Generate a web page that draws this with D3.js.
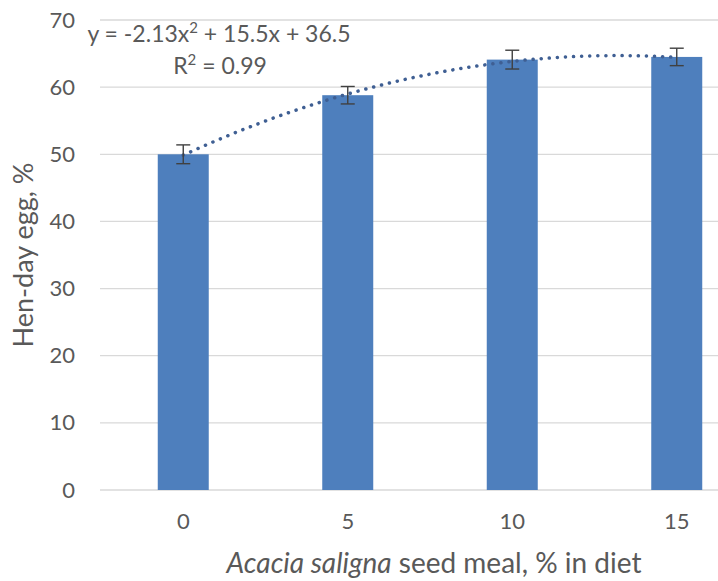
<html>
  <head>
    <title>Hen-day egg</title>
    <meta charset="utf-8" />
    <script src="https://cdnjs.cloudflare.com/ajax/libs/d3/7.6.1/d3.min.js"></script>
    <style>
      body {
        margin: 0;
        background: #fff;
      }
      svg {
        font-family: Lato, "Open Sans", sans-serif;
      }
      text {
        fill: #595959;
      }
    </style>
  </head>
  <body>
    <svg width="718" height="581"></svg>
  </body>

  <script>
    // data
    const levels = ["0", "5", "10", "15"];
    const henDay = [50.0, 58.8, 64.1, 64.5];
    const errors = [1.4, 1.3, 1.4, 1.3];
    const yTicks = [0, 10, 20, 30, 40, 50, 60, 70];
    // polynomial trendline shown on the chart: a*x^2 + b*x + c, x = 1..4
    const trendCoef = [-2.13, 15.5, 36.5];

    const svg = d3.select("svg");

    const xScale = d3
      .scaleBand()
      .domain(levels)
      .range([101, 759])
      .paddingInner(0.69)
      .paddingOuter(0.345);
    const yScale = d3.scaleLinear().domain([0, 70]).range([490, 20]);

    // gridlines
    svg
      .append("g")
      .selectAll("line")
      .data(yTicks)
      .join("line")
      .attr("x1", 100)
      .attr("x2", 759)
      .attr("y1", (d) => yScale(d))
      .attr("y2", (d) => yScale(d))
      .attr("stroke", "#d9d9d9")
      .attr("stroke-width", 1.3);

    // y axis labels
    const yAxis = d3.axisLeft(yScale).tickValues(yTicks).tickSize(0).tickPadding(25);
    const yG = svg.append("g").attr("transform", "translate(100,0)").call(yAxis);
    yG.select(".domain").remove();
    yG.selectAll("text")
      .style("font-size", "22px")
      .style("font-family", "Lato")
      .attr("fill", "#595959");

    // x axis labels
    const xAxis = d3.axisBottom(xScale).tickSize(0).tickPadding(23);
    const xG = svg.append("g").attr("transform", "translate(0,490)").call(xAxis);
    xG.select(".domain").remove();
    xG.selectAll("text")
      .style("font-size", "22px")
      .style("font-family", "Lato")
      .attr("fill", "#595959");

    // bars
    svg
      .append("g")
      .selectAll("rect")
      .data(henDay)
      .join("rect")
      .attr("x", (d, i) => xScale(levels[i]))
      .attr("width", xScale.bandwidth())
      .attr("y", (d) => yScale(d))
      .attr("height", (d) => yScale(0) - yScale(d))
      .attr("fill", "#4e7fbd");

    // trendline
    const cx = (i) => xScale(levels[i]) + xScale.bandwidth() / 2;
    const tScale = d3.scaleLinear().domain([1, 4]).range([cx(0), cx(3)]);
    const poly = (t) => trendCoef[0] * t * t + trendCoef[1] * t + trendCoef[2];
    const tPts = d3.range(1, 4.001, 0.05);
    svg
      .append("path")
      .attr(
        "d",
        d3
          .line()
          .x((t) => tScale(t))
          .y((t) => yScale(poly(t)))(tPts)
      )
      .attr("fill", "none")
      .attr("stroke", "#3f5f93")
      .attr("stroke-width", 3.5)
      .attr("stroke-linecap", "round")
      .attr("stroke-dasharray", "0.1 8");

    // error bars
    const eb = svg
      .append("g")
      .attr("stroke", "#404040")
      .attr("stroke-width", 1.4)
      .selectAll("g")
      .data(henDay)
      .join("g");
    eb.append("line")
      .attr("x1", (d, i) => cx(i))
      .attr("x2", (d, i) => cx(i))
      .attr("y1", (d, i) => yScale(d + errors[i]))
      .attr("y2", (d, i) => yScale(d - errors[i]));
    eb.append("line")
      .attr("x1", (d, i) => cx(i) - 7)
      .attr("x2", (d, i) => cx(i) + 7)
      .attr("y1", (d, i) => yScale(d + errors[i]))
      .attr("y2", (d, i) => yScale(d + errors[i]));
    eb.append("line")
      .attr("x1", (d, i) => cx(i) - 7)
      .attr("x2", (d, i) => cx(i) + 7)
      .attr("y1", (d, i) => yScale(d - errors[i]))
      .attr("y2", (d, i) => yScale(d - errors[i]));

    // trendline equation
    const eq = svg
      .append("text")
      .attr("x", 219)
      .attr("y", 42)
      .attr("text-anchor", "middle")
      .style("font-size", "23px");
    eq.append("tspan").text("y = -2.13x");
    eq.append("tspan").attr("dy", -9).style("font-size", "15px").text("2");
    eq.append("tspan").attr("dy", 9).text(" + 15.5x + 36.5");

    const r2 = svg
      .append("text")
      .attr("x", 220)
      .attr("y", 74)
      .attr("text-anchor", "middle")
      .style("font-size", "23px");
    r2.append("tspan").text("R");
    r2.append("tspan").attr("dy", -9).style("font-size", "15px").text("2");
    r2.append("tspan").attr("dy", 9).text(" = 0.99");

    // axis titles
    svg
      .append("text")
      .attr("transform", "translate(33,255) rotate(-90)")
      .attr("text-anchor", "middle")
      .style("font-size", "27px")
      .text("Hen-day egg, %");

    const xt = svg
      .append("text")
      .attr("x", 434)
      .attr("y", 573)
      .attr("text-anchor", "middle")
      .style("font-size", "28px");
    xt.append("tspan").style("font-style", "italic").text("Acacia saligna");
    xt.append("tspan").text(" seed meal, % in diet");
  </script>
</html>
